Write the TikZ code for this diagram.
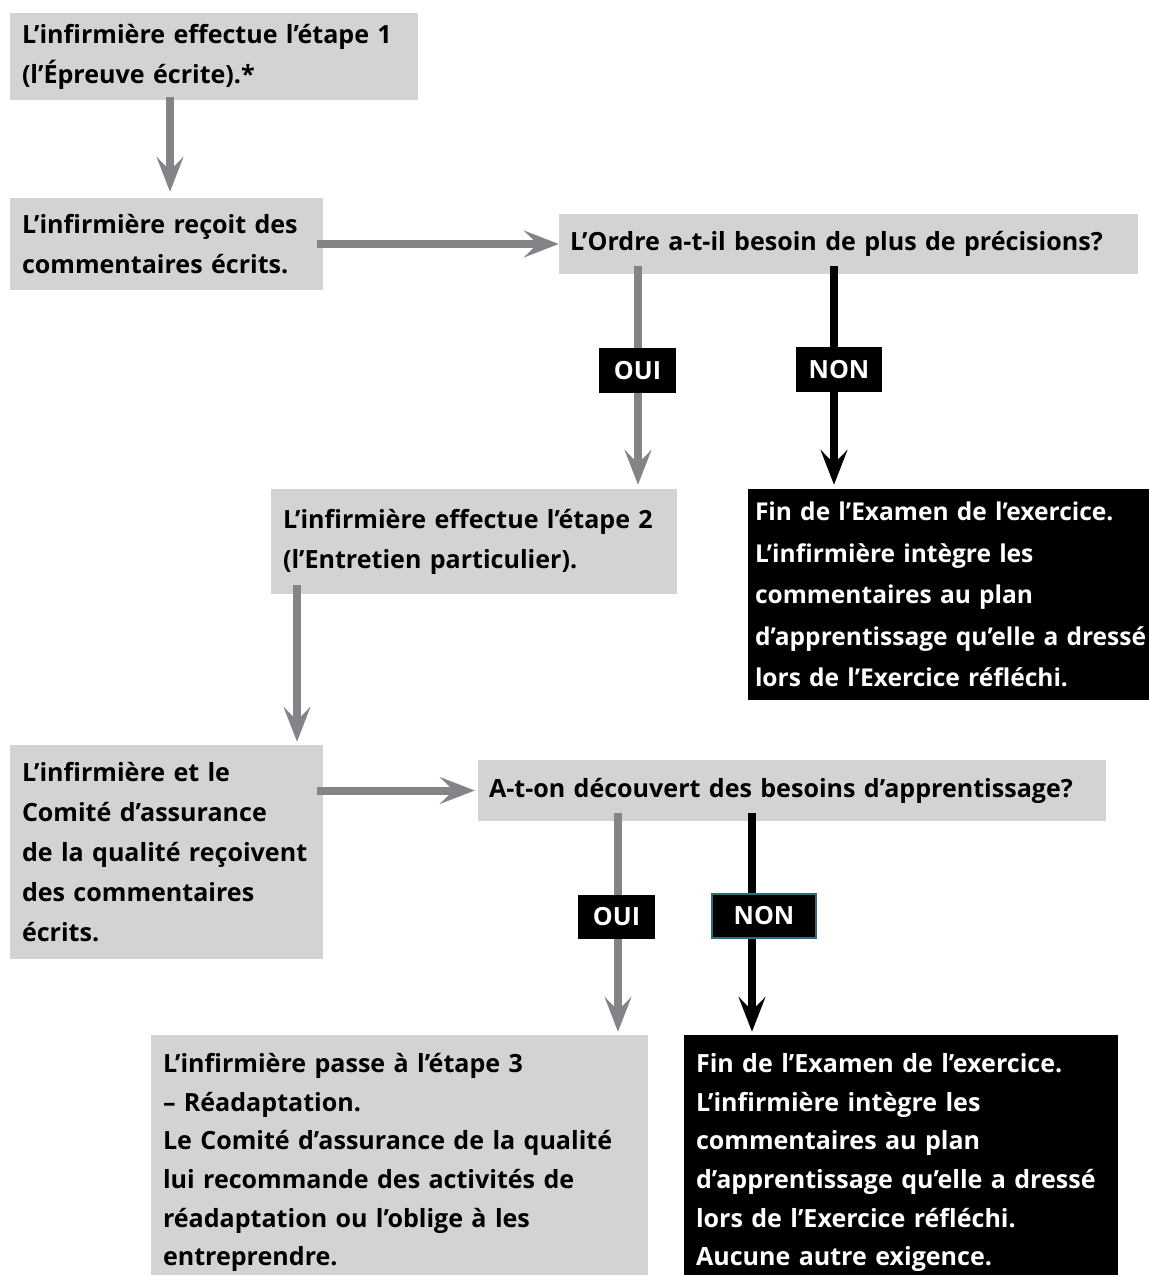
\documentclass[tikz,border=0pt]{standalone}
\usepackage{fontspec}
\setmainfont{Open Sans}
\usetikzlibrary{arrows.meta}
\definecolor{boxgray}{HTML}{D1D3D4}
\definecolor{argray}{HTML}{838487}
\definecolor{tealedge}{HTML}{2A6E80}
\begin{document}
\begin{tikzpicture}[x=0.75pt,y=-0.75pt,
  every node/.style={font=\bfseries\fontsize{18.8}{30}\selectfont},
  gbox/.style={fill=boxgray, inner ysep=0pt, inner xsep=9pt, align=left},
  kbox/.style={fill=black, text=white, inner ysep=0pt, inner xsep=9pt, align=left},
  tag/.style={fill=black, text=white, inner sep=0pt, align=center},
  conn/.style={line width=6pt, -{Stealth[length=26pt, width=20pt, inset=10pt]}, shorten <=-6pt, shorten >=3pt},
  gconn/.style={conn, draw=argray},
  kconn/.style={conn, draw=black}]
\useasboundingbox (0,0) rectangle (1149,1275);
\fill[white] (0,0) rectangle (1149,1275);

% boxes
\node[gbox, minimum width=306pt, minimum height=65.25pt, text width=288pt] (b1) at (214,56.5)
  {L’infirmière effectue l’étape 1\\(l’Épreuve écrite).*};
\node[gbox, minimum width=234.75pt, minimum height=69pt, text width=216.75pt] (b2) at (166.5,244)
  {L’infirmière reçoit des\\commentaires écrits.};
\node[gbox, minimum width=434.25pt, minimum height=45pt, inner xsep=8.25pt, text width=417.75pt] (q1) at (848.5,244)
  {L’Ordre a-t-il besoin de plus de précisions?};
\node[gbox, minimum width=304.5pt, minimum height=78.75pt, text width=286.5pt] (b4) at (474,541.5)
  {L’infirmière effectue l’étape 2\\(l’Entretien particulier).};
\node[kbox, minimum width=309pt, minimum height=158.25pt, inner xsep=5.25pt, text width=298.5pt,
  font=\bfseries\fontsize{18.4}{31.2}\selectfont] (b5) at (954,594.5)
  {\mbox{Fin de l’Examen de l’exercice.}\\\mbox{L’infirmière intègre les}\\\mbox{commentaires au plan}\\\mbox{d’apprentissage qu’elle a dressé}\\\mbox{lors de l’Exercice réfléchi.}};
\node[gbox, minimum width=234.75pt, minimum height=160.5pt, text width=216.75pt] (b6) at (166.5,852)
  {L’infirmière et le\\Comité d’assurance\\de la qualité reçoivent\\des commentaires\\écrits.};
\node[gbox, minimum width=471pt, minimum height=45.75pt, inner xsep=8.25pt, text width=454.5pt] (q2) at (792,790.5)
  {A-t-on découvert des besoins d’apprentissage?};
\node[gbox, minimum width=372.75pt, minimum height=191.25pt, text width=354.75pt,
  font=\bfseries\fontsize{18.8}{29}\selectfont] (b8) at (399.5,1162.5)
  {\mbox{L’infirmière passe à l’étape 3}\\\mbox{– Réadaptation.}\\\mbox{Le Comité d’assurance de la qualité}\\\mbox{lui recommande des activités de}\\\mbox{réadaptation ou l’oblige à les}\\\mbox{entreprendre.}};
\node[kbox, minimum width=325.5pt, minimum height=191.25pt, text width=307.5pt,
  font=\bfseries\fontsize{18.8}{29}\selectfont] (b9) at (901,1162.5)
  {\mbox{Fin de l’Examen de l’exercice.}\\\mbox{L’infirmière intègre les}\\\mbox{commentaires au plan}\\\mbox{d’apprentissage qu’elle a dressé}\\\mbox{lors de l’Exercice réfléchi.}\\\mbox{Aucune autre exigence.}};

% x positions of vertical connectors
\coordinate (xa) at (170,0);
\coordinate (xb) at (297,0);
\coordinate (xo1) at (638,0);
\coordinate (xn1) at (834,0);
\coordinate (xo2) at (618,0);
\coordinate (xn2) at (752,0);

% connectors
\draw[gconn, shorten <=-2.25pt, shorten >=4.5pt] (b1.south -| xa) -- (b2.north -| xa);
\draw[gconn, shorten <=-4.5pt, shorten >=0pt] (b2.east |- q1.west) -- (q1.west);
\draw[gconn] (q1.south -| xo1) -- (b4.north -| xo1);
\draw[kconn] (q1.south -| xn1) -- (b5.north -| xn1);
\draw[gconn, shorten <=-6.75pt, shorten >=2.25pt] (b4.south -| xb) -- (b6.north -| xb);
\draw[gconn, shorten <=-4.5pt, shorten >=2.25pt] (b6.east |- q2.west) -- (q2.west);
\draw[gconn, shorten >=2.25pt] (q2.south -| xo2) -- (b8.north -| xo2);
\draw[kconn, shorten >=2.25pt] (q2.south -| xn2) -- (b9.north -| xn2);

% labels
\node[tag, minimum width=57.75pt, minimum height=33.75pt] (oui1) at (637.5,370.5) {OUI};
\node[tag, minimum width=64.5pt, minimum height=33.75pt] (non1) at (839,369.5) {NON};
\node[tag, minimum width=57.75pt, minimum height=33pt] (oui2) at (616.5,917) {OUI};
\node[tag, draw=tealedge, line width=1.1pt, minimum width=78pt, minimum height=33pt] (non2) at (764,916) {NON};
\end{tikzpicture}
\end{document}
